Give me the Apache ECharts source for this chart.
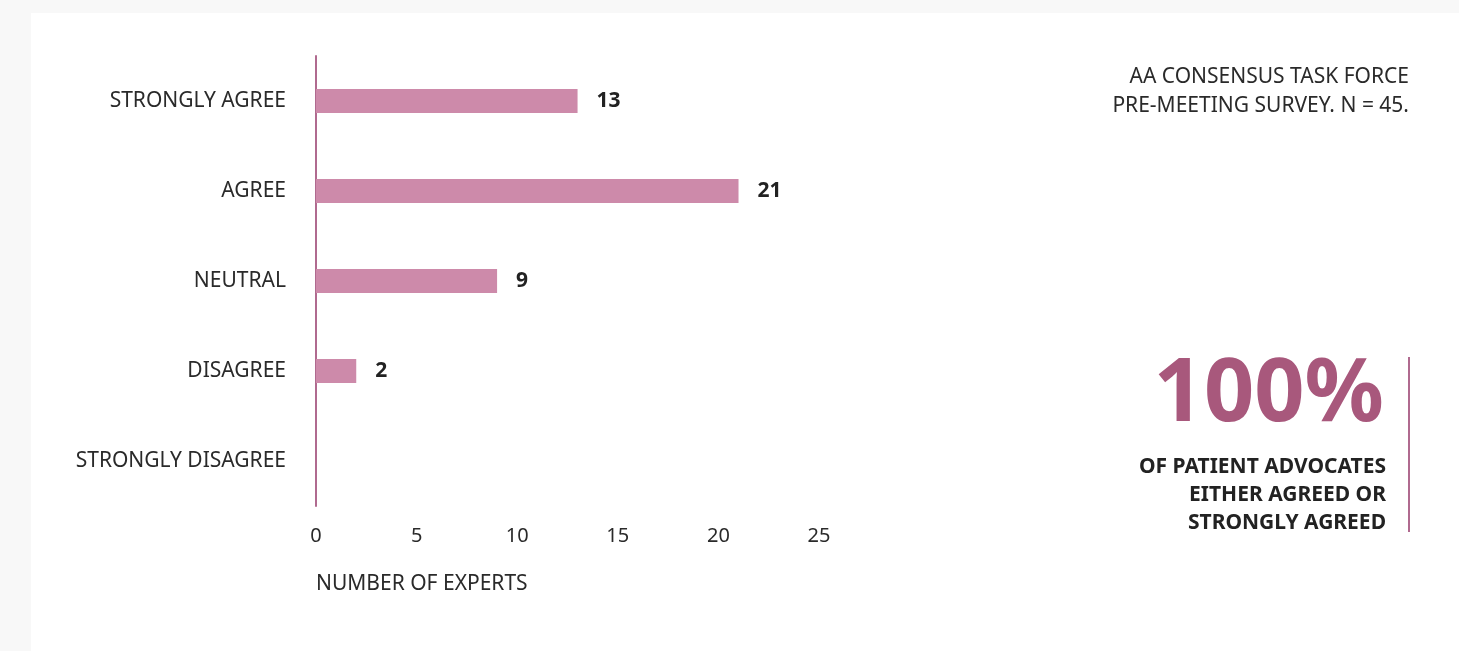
<!DOCTYPE html>
<html>
<head>
<meta charset="utf-8">
<script src="https://cdn.jsdelivr.net/npm/echarts@6/dist/echarts.min.js"></script>
<style>
html,body{margin:0;padding:0;background:#f8f8f8;}
#card{position:absolute;left:31px;top:13px;width:1428px;height:638px;background:#fff;}
#chart{position:absolute;left:0;top:0;width:1459px;height:651px;}
</style>
</head>
<body>
<div id="card"></div>
<div id="chart"></div>
<script>
const categories = ['STRONGLY AGREE', 'AGREE', 'NEUTRAL', 'DISAGREE', 'STRONGLY DISAGREE'];
const values = [13, 21, 9, 2, 0];
const xTicks = [0, 5, 10, 15, 20, 25];
const noteLines = ['AA CONSENSUS TASK FORCE', 'PRE-MEETING SURVEY. N = 45.'];
const bigStat = '100%';
const statLines = ['OF PATIENT ADVOCATES', 'EITHER AGREED OR', 'STRONGLY AGREED'];
const axisName = 'NUMBER OF EXPERTS';

const FONT = '"Noto Sans", sans-serif';
const chart = echarts.init(document.getElementById('chart'), null, {renderer: 'canvas'});

const graphics = [
  {type: 'text', left: 316, top: 574, style: {text: axisName, fill: '#2a2a2a', font: '21px ' + FONT}},
  {type: 'text', right: 75, top: 352, style: {text: bigStat, fill: '#a8587c', font: 'bold 88px ' + FONT}},
  {type: 'line', shape: {x1: 1409, y1: 357, x2: 1409, y2: 532}, style: {stroke: '#b06a8f', lineWidth: 2}}
];
noteLines.forEach((t, i) => graphics.push({
  type: 'text', right: 50, top: 67 + i * 29,
  style: {text: t, fill: '#2a2a2a', font: '21px ' + FONT}
}));
statLines.forEach((t, i) => graphics.push({
  type: 'text', right: 73, top: 457 + i * 28,
  style: {text: t, fill: '#222', font: 'bold 21px ' + FONT}
}));

chart.setOption({
  backgroundColor: 'transparent',
  animation: false,
  grid: {left: 316, top: 56, width: 503, height: 450, containLabel: false},
  xAxis: {
    type: 'value', min: xTicks[0], max: xTicks[xTicks.length - 1], interval: 5,
    axisLine: {show: false}, axisTick: {show: false}, splitLine: {show: false},
    axisLabel: {color: '#2a2a2a', fontSize: 20, fontFamily: FONT, margin: 20,
      formatter: v => xTicks.includes(v) ? String(v) : ''}
  },
  yAxis: {
    type: 'category', data: categories, inverse: true,
    axisLine: {show: true, lineStyle: {color: '#b06a8f', width: 2}},
    axisTick: {show: false},
    axisLabel: {color: '#2a2a2a', fontSize: 21, fontFamily: FONT, margin: 30}
  },
  series: [{
    type: 'bar', data: values, barWidth: 24,
    itemStyle: {color: '#cd8aaa'},
    label: {
      show: true, position: 'right', distance: 19,
      formatter: p => p.value > 0 ? p.value : '',
      color: '#222', fontSize: 21, fontWeight: 'bold', fontFamily: FONT
    }
  }],
  graphic: graphics
});
</script>
</body>
</html>
